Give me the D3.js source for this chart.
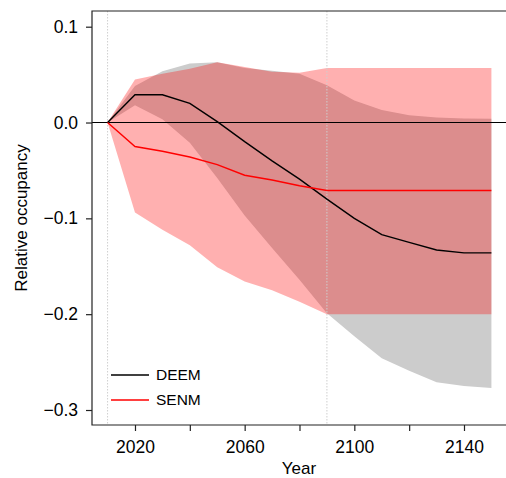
<!DOCTYPE html>
<html>
<head>
<meta charset="utf-8">
<script src="https://cdn.jsdelivr.net/npm/d3@7"></script>
<style>
  body { margin: 0; background: #fff; }
  svg { display: block; font-family: "Liberation Sans", Arial, sans-serif; }
  .tick text { fill: #000; }
</style>
</head>
<body>
<svg id="chart" width="506" height="478"></svg>
<script>
const width = 506;
const height = 478;

// data
const years = [2010, 2020, 2030, 2040, 2050, 2060, 2070, 2080, 2090, 2100, 2110, 2120, 2130, 2140, 2150];
const deemMean = [0, 0.029, 0.029, 0.020, 0.001, -0.020, -0.040, -0.059, -0.080, -0.100, -0.117, -0.125, -0.133, -0.136, -0.136];
const deemUpper = [0, 0.038, 0.0535, 0.0615, 0.063, 0.057, 0.054, 0.051, 0.039, 0.023, 0.013, 0.0076, 0.0052, 0.0042, 0.004];
const deemLower = [0, 0.018, 0.0035, -0.021, -0.058, -0.097, -0.131, -0.164, -0.199, -0.223, -0.246, -0.259, -0.271, -0.275, -0.277];
const senmMean = [0, -0.025, -0.030, -0.036, -0.044, -0.055, -0.060, -0.066, -0.071, -0.071, -0.071, -0.071, -0.071, -0.071, -0.071];
const senmUpper = [0, 0.045, 0.051, 0.056, 0.063, 0.058, 0.053, 0.052, 0.057, 0.057, 0.057, 0.057, 0.057, 0.057, 0.057];
const senmLower = [0, -0.094, -0.112, -0.128, -0.151, -0.166, -0.175, -0.187, -0.200, -0.200, -0.200, -0.200, -0.200, -0.200, -0.200];

const xTicks = [2020, 2040, 2060, 2080, 2100, 2120, 2140];
const xTickLabels = [2020, 2060, 2100, 2140];
const yTicks = [-0.3, -0.2, -0.1, 0, 0.1];
const refYears = [2010, 2090];
const legendItems = [
  { name: "DEEM", color: "#000" },
  { name: "SENM", color: "#ff0000" },
];

const plot = { left: 92, top: 11, right: 506, bottom: 425 };

const svg = d3.select("#chart");

const x = d3.scaleLinear().domain([2004.32, 2155.32]).range([plot.left, plot.right]);
const y = d3.scaleLinear().domain([-0.31565, 0.11638]).range([plot.bottom, plot.top]);

const rows = years.map((yr, i) => ({
  year: yr,
  dm: deemMean[i], du: deemUpper[i], dl: deemLower[i],
  sm: senmMean[i], su: senmUpper[i], sl: senmLower[i],
}));

// bands
const band = (lo, hi) => d3.area().x((d) => x(d.year)).y0((d) => y(d[lo])).y1((d) => y(d[hi]));

svg.append("path")
  .datum(rows)
  .attr("d", band("dl", "du"))
  .attr("fill", "#cccccc");

svg.append("path")
  .datum(rows)
  .attr("d", band("sl", "su"))
  .attr("fill", "#ff0000")
  .attr("fill-opacity", 0.31);

// dotted reference years
svg.append("g")
  .selectAll("line")
  .data(refYears)
  .join("line")
  .attr("x1", (d) => x(d))
  .attr("x2", (d) => x(d))
  .attr("y1", plot.top)
  .attr("y2", plot.bottom)
  .attr("stroke", "#cfcfcf")
  .attr("stroke-width", 1)
  .attr("stroke-dasharray", "1.5,1.5");

// zero line
svg.append("line")
  .attr("x1", plot.left)
  .attr("x2", plot.right)
  .attr("y1", y(0))
  .attr("y2", y(0))
  .attr("stroke", "#000")
  .attr("stroke-width", 1.2);

// mean lines
const line = (key) => d3.line().x((d) => x(d.year)).y((d) => y(d[key]));

svg.append("path")
  .datum(rows)
  .attr("d", line("dm"))
  .attr("fill", "none")
  .attr("stroke", "#000")
  .attr("stroke-width", 1.4);

svg.append("path")
  .datum(rows)
  .attr("d", line("sm"))
  .attr("fill", "none")
  .attr("stroke", "#ff0000")
  .attr("stroke-width", 1.4);

// axes
const yAxis = d3.axisLeft(y)
  .tickValues(yTicks)
  .tickSize(6)
  .tickPadding(8)
  .tickFormat(d3.format(".1f"));

svg.append("g")
  .attr("transform", `translate(${plot.left},0)`)
  .call(yAxis)
  .call((g) => g.select(".domain").remove())
  .call((g) => g.selectAll(".tick line").attr("stroke", "#222").attr("stroke-width", 1.2))
  .call((g) => g.selectAll(".tick text").style("font-size", "17.5px"));

const xAxis = d3.axisBottom(x)
  .tickValues(xTicks)
  .tickSize(6)
  .tickPadding(10)
  .tickFormat((d) => (xTickLabels.includes(d) ? String(d) : ""));

svg.append("g")
  .attr("transform", `translate(0,${plot.bottom})`)
  .call(xAxis)
  .call((g) => g.select(".domain").remove())
  .call((g) => g.selectAll(".tick line").attr("stroke", "#222").attr("stroke-width", 1.2))
  .call((g) => g.selectAll(".tick text").style("font-size", "17.5px"));

// frame: left, top, bottom
svg.append("path")
  .attr("d", `M${plot.right + 2},${plot.top}H${plot.left}V${plot.bottom}H${plot.right + 2}`)
  .attr("fill", "none")
  .attr("stroke", "#222")
  .attr("stroke-width", 1.2);

// axis titles
svg.append("text")
  .attr("x", (plot.left + plot.right) / 2)
  .attr("y", 474)
  .attr("text-anchor", "middle")
  .style("font-size", "17px")
  .text("Year");

svg.append("text")
  .attr("transform", `translate(27,${(plot.top + plot.bottom) / 2}) rotate(-90)`)
  .attr("text-anchor", "middle")
  .style("font-size", "17px")
  .text("Relative occupancy");

// legend
const legend = svg.append("g").attr("transform", "translate(111,375)");

const items = legend
  .selectAll("g")
  .data(legendItems)
  .join("g")
  .attr("transform", (d, i) => `translate(0,${i * 25})`);

items.append("line")
  .attr("x1", 0)
  .attr("x2", 38)
  .attr("stroke", (d) => d.color)
  .attr("stroke-width", 1.4);

items.append("text")
  .attr("x", 45)
  .attr("dy", "0.35em")
  .style("font-size", "15.5px")
  .text((d) => d.name);
</script>
</body>
</html>
